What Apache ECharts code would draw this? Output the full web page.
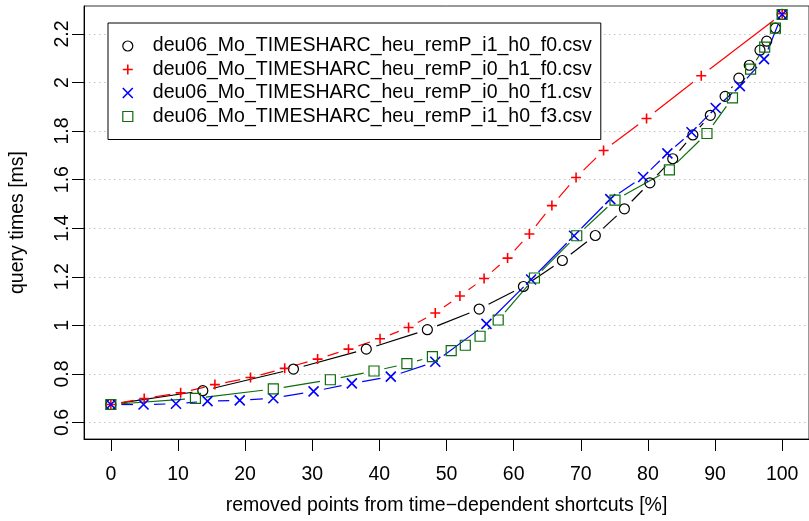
<!DOCTYPE html>
<html>
<head>
<meta charset="utf-8">
<script src="https://cdn.jsdelivr.net/npm/echarts@6/dist/echarts.min.js"></script>
<style>
  html, body { margin: 0; padding: 0; background: #fff; }
  #chart { width: 809px; height: 521px; }
</style>
</head>
<body>
<div id="chart"></div>
<script>
// Query times (ms) against the share of removed points from time-dependent shortcuts (%)
const xTicks = [0, 10, 20, 30, 40, 50, 60, 70, 80, 90, 100];
const yTicks = [0.6, 0.8, 1.0, 1.2, 1.4, 1.6, 1.8, 2.0, 2.2];

const namesCsv = [
  'deu06_Mo_TIMESHARC_heu_remP_i1_h0_f0.csv',
  'deu06_Mo_TIMESHARC_heu_remP_i0_h1_f0.csv',
  'deu06_Mo_TIMESHARC_heu_remP_i0_h0_f1.csv',
  'deu06_Mo_TIMESHARC_heu_remP_i1_h0_f3.csv'
];

const xI1H0F0 = [0, 13.7, 27.2, 38.05, 47.15, 54.87, 61.46, 67.26, 72.17, 76.5, 80.3, 83.7, 86.7, 89.3, 91.5, 93.55, 95.1, 96.7, 97.7, 99.0, 100];
const yI1H0F0 = [0.674, 0.731, 0.82, 0.902, 0.982, 1.067, 1.16, 1.267, 1.37, 1.48, 1.587, 1.686, 1.784, 1.865, 1.943, 2.018, 2.071, 2.133, 2.17, 2.224, 2.28];

const xI0H1F0 = [0, 4.97, 10.4, 15.5, 20.8, 25.9, 30.8, 35.4, 40.1, 44.35, 48.33, 52.0, 55.6, 59.1, 62.35, 65.7, 69.3, 73.4, 79.8, 87.95, 100];
const yI0H1F0 = [0.674, 0.699, 0.722, 0.756, 0.785, 0.823, 0.861, 0.902, 0.945, 0.991, 1.051, 1.121, 1.193, 1.277, 1.376, 1.493, 1.609, 1.72, 1.852, 2.028, 2.283];

const xI0H0F1 = [0, 4.87, 9.7, 14.4, 19.2, 24.2, 30.2, 35.9, 41.7, 48.33, 55.95, 62.6, 69.0, 74.4, 79.3, 82.9, 86.5, 90.1, 93.7, 97.3, 100];
const yI0H0F1 = [0.674, 0.674, 0.677, 0.688, 0.691, 0.70, 0.728, 0.761, 0.789, 0.85, 1.006, 1.189, 1.369, 1.52, 1.611, 1.708, 1.795, 1.895, 1.985, 2.096, 2.28];

const xI1H0F3 = [0, 12.6, 24.2, 32.7, 39.2, 44.1, 47.9, 50.7, 52.8, 55.0, 57.7, 63.1, 69.4, 75.1, 83.2, 88.8, 92.6, 95.3, 97.4, 99.0, 100];
const yI1H0F3 = [0.674, 0.699, 0.738, 0.776, 0.812, 0.842, 0.871, 0.896, 0.918, 0.955, 1.022, 1.195, 1.369, 1.516, 1.64, 1.79, 1.937, 2.055, 2.146, 2.224, 2.28];

const FONT = '"Liberation Sans", Arial, Helvetica, sans-serif';
const FS = 19.5;

const styles = [
  { color: '#000000', symbol: 'circle', bw: 1.2 },
  { color: '#FF0000', symbol: 'path://M5,0L5,10M0,5L10,5', bw: 1.6 },
  { color: '#0000FF', symbol: 'path://M0,0L10,10M10,0L0,10', bw: 1.6 },
  { color: '#0B6E0B', symbol: 'path://M0,0L10,0L10,10L0,10Z', bw: 1.2 }
];
const xs = [xI1H0F0, xI0H1F0, xI0H0F1, xI1H0F3];
const ys = [yI1H0F0, yI0H1F0, yI0H0F1, yI1H0F3];

// gap left around each point where the connecting line stops (lines + points style)
const GAP = 10.5;

function segments(x, y) {
  const out = [];
  for (let i = 0; i < x.length - 1; i++) out.push([x[i], y[i], x[i + 1], y[i + 1]]);
  return out;
}

const series = [];
namesCsv.forEach((name, k) => {
  const st = styles[k];
  series.push({
    type: 'custom',
    name: name + ' line',
    data: segments(xs[k], ys[k]),
    encode: { x: [0, 2], y: [1, 3] },
    silent: true,
    renderItem: function (params, api) {
      const p1 = api.coord([api.value(0), api.value(1)]);
      const p2 = api.coord([api.value(2), api.value(3)]);
      const dx = p2[0] - p1[0], dy = p2[1] - p1[1];
      const len = Math.sqrt(dx * dx + dy * dy);
      if (len <= 2 * GAP) return null;
      const ux = dx / len, uy = dy / len;
      return {
        type: 'line',
        shape: {
          x1: p1[0] + ux * GAP, y1: p1[1] + uy * GAP,
          x2: p2[0] - ux * GAP, y2: p2[1] - uy * GAP
        },
        style: { stroke: st.color, lineWidth: 1.2, fill: null }
      };
    }
  });
  series.push({
    type: 'scatter',
    name: name,
    data: xs[k].map((v, i) => [v, ys[k][i]]),
    symbol: st.symbol,
    symbolSize: 10,
    itemStyle: { color: 'transparent', borderColor: st.color, borderWidth: st.bw, opacity: 1 },
    emphasis: { disabled: true }
  });
});

const chart = echarts.init(document.getElementById('chart'), null, { renderer: 'canvas' });
chart.setOption({
  animation: false,
  backgroundColor: '#ffffff',
  textStyle: { fontFamily: FONT },
  grid: {
    left: 81, top: 6, right: -3.4, bottom: 76,
    show: true, borderColor: '#333333', borderWidth: 1, backgroundColor: 'transparent',
    containLabel: false
  },
  legend: {
    left: 108, top: 23,
    orient: 'vertical',
    backgroundColor: '#ffffff',
    borderColor: '#000000', borderWidth: 1, borderRadius: 0,
    padding: [13, 9, 13, 14],
    itemWidth: 10, itemHeight: 10, itemGap: 3.5,
    selectedMode: false,
    textStyle: { fontFamily: FONT, fontSize: FS, color: '#000', lineHeight: 20, padding: [0, 0, 0, 15] },
    data: namesCsv.map((n, k) => ({
      name: n,
      icon: styles[k].symbol,
      itemStyle: { color: 'transparent', borderColor: styles[k].color, borderWidth: styles[k].bw }
    }))
  },
  xAxis: {
    type: 'value', min: -4, max: 104,
    name: 'removed points from time\u2212dependent shortcuts [%]',
    nameLocation: 'middle', nameGap: 57,
    nameTextStyle: { fontFamily: FONT, fontSize: FS, color: '#000' },
    axisLine: { show: true, onZero: false, lineStyle: { color: '#000', width: 1 } },
    axisTick: { show: true, length: 12, customValues: xTicks, lineStyle: { color: '#000', width: 1 } },
    axisLabel: { customValues: xTicks, margin: 26, fontFamily: FONT, fontSize: FS, color: '#000' },
    splitLine: { show: false }
  },
  yAxis: {
    type: 'value', min: 0.532, max: 2.315,
    name: 'query times [ms]',
    nameLocation: 'middle', nameGap: 56,
    nameTextStyle: { fontFamily: FONT, fontSize: FS, color: '#000' },
    axisLine: { show: true, onZero: false, lineStyle: { color: '#000', width: 1 } },
    axisTick: { show: true, length: 12, customValues: yTicks, lineStyle: { color: '#000', width: 1 } },
    axisLabel: {
      customValues: yTicks, rotate: 90, margin: 11,
      fontFamily: FONT, fontSize: FS, color: '#000',
      formatter: v => String(+(+v).toFixed(1))
    },
    splitLine: { show: true, lineStyle: { color: '#C4C4C4', width: 1, type: [1.5, 3.5] } }
  },
  series: series
});
</script>
</body>
</html>
